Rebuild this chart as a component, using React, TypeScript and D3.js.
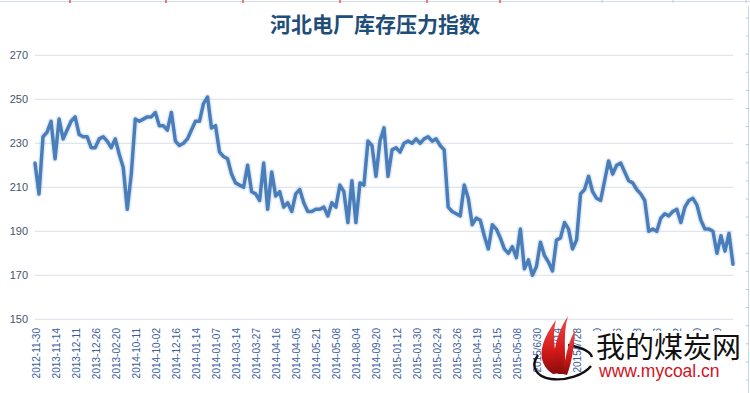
import React from "react";
import * as d3 from "d3";

// 河北电厂库存压力指数
const values: number[] = [
  221, 207, 233, 235, 240, 223, 241, 232, 236, 240,
  242, 234, 233, 233, 228, 228, 232, 233, 231, 228,
  232, 225, 219, 200, 216, 241, 240, 241, 242, 242,
  244, 238, 238, 236, 244, 231, 229, 230, 232, 236,
  240, 240, 248, 251, 237, 238, 226, 224, 223, 216,
  212, 211, 210, 220, 208, 207, 204, 221, 200, 217,
  206, 208, 201, 203, 199, 207, 209, 203, 199, 199,
  200, 200, 201, 197, 203, 201, 211, 208, 194, 213,
  194, 212, 211, 231, 229, 215, 231, 237, 215, 227,
  228, 226, 230, 231, 230, 232, 230, 232, 233, 231,
  232, 229, 227, 201, 199, 198, 197, 211, 205, 193,
  196, 195, 188, 182, 193, 191, 187, 182, 180, 183,
  178, 191, 173, 177, 170, 174, 185, 179, 176, 172,
  186, 187, 194, 191, 182, 186, 207, 209, 215, 208,
  205, 204, 213, 222, 216, 220, 221, 217, 213, 212,
  209, 207, 204, 190, 191, 190, 196, 198, 197, 199,
  200, 194, 201, 204, 205, 202, 195, 191, 191, 190,
  180, 188, 181, 189, 175,
];

// one label every 5 points
const labelEvery = 5;
const tickLabels: string[] = [
  "2012-11-30", "2013-11-14", "2013-12-11", "2013-12-26", "2013-02-20",
  "2014-10-11", "2014-10-02", "2014-12-16", "2014-01-14", "2014-01-07",
  "2014-03-14", "2014-03-27", "2014-04-16", "2014-04-05", "2014-05-21",
  "2014-05-08", "2014-08-04", "2014-09-20", "2015-01-12", "2015-01-30",
  "2015-02-24", "2015-03-26", "2015-04-19", "2015-05-15", "2015-05-08",
  "2015/6/30", "2015/7/14", "2015/7/28", "2015/9/30", "2015/10/16",
  "2015/11/13", "2015/11/26", "2015/12/22", "2016/1/20", "2016/2/10",
];

const yTicks: number[] = [150, 170, 190, 210, 230, 250, 270];

const W = 750;
const H = 393;

export default function App() {
  const x = d3.scaleLinear().domain([0, values.length - 1]).range([35, 733]);
  const y = d3.scaleLinear().domain([150, 270]).range([319.3, 55.3]);

  const line = d3
    .line<number>()
    .x((d, i) => x(i))
    .y((d) => y(d));

  const redMarks = [70, 166, 243, 340, 427, 500];
  const grayMarks = [602, 673, 746];
  const sideTicks = d3.range(18, H, 18.1);

  return (
    <div style={{ position: "absolute", left: 0, top: 0 }}>
      <svg width={W} height={H} style={{ display: "block", background: "#fff" }}>
        <defs>
          <linearGradient id="flame" x1="0" y1="0" x2="0" y2="1">
            <stop offset="0" stopColor="#f04a4a" />
            <stop offset="0.6" stopColor="#d01818" />
            <stop offset="1" stopColor="#8a0c0c" />
          </linearGradient>
        </defs>

        {/* sheet edges */}
        <line x1={0} x2={W} y1={1.5} y2={1.5} stroke="#d3dded" />
        {redMarks.map((m) => (
          <line key={m} x1={m} x2={m} y1={0} y2={3} stroke="#e00000" />
        ))}
        {grayMarks.map((m) => (
          <line key={m} x1={m} x2={m} y1={0} y2={3} stroke="#c0c8d4" />
        ))}
        <line x1={748.5} x2={748.5} y1={6} y2={H} stroke="#c9d7ea" />
        {sideTicks.map((t) => (
          <line key={t} x1={746} x2={748.5} y1={t} y2={t} stroke="#b9c6d8" />
        ))}

        <text
          x={375}
          y={32}
          textAnchor="middle"
          fontFamily="'Noto Sans CJK SC', sans-serif"
          fontWeight="bold"
          fontSize={21}
          fill="#1f4e79"
        >
          河北电厂库存压力指数
        </text>

        {yTicks.map((t) => (
          <g key={t}>
            <line x1={35} x2={733} y1={y(t)} y2={y(t)} stroke="#d9dfea" strokeWidth={1} />
            <text
              x={28}
              y={y(t)}
              textAnchor="end"
              dominantBaseline="central"
              fontFamily="'Liberation Sans', Arial, sans-serif"
              fontSize={11}
              fill="#44546a"
            >
              {t}
            </text>
          </g>
        ))}

        {tickLabels.map((lab, k) => (
          <text
            key={k}
            transform={`translate(${x(k * labelEvery) + 1},328) rotate(-90)`}
            textAnchor="end"
            dominantBaseline="central"
            fontFamily="'Liberation Sans', Arial, sans-serif"
            fontSize={10}
            fill="#3a5da0"
          >
            {lab}
          </text>
        ))}

        {/* soft glow under the series, then the series */}
        <path
          d={line(values) ?? ""}
          fill="none"
          stroke="#4a7ebb"
          strokeOpacity={0.15}
          strokeWidth={6.5}
          strokeLinejoin="round"
        />
        <path
          d={line(values) ?? ""}
          fill="none"
          stroke="#4a7ebb"
          strokeWidth={3.5}
          strokeLinejoin="round"
          strokeLinecap="round"
        />

        {/* watermark logo */}
        <rect x={593} y={331} width={152} height={48} fill="#fff" />
        <path
          d="M568,345 C580,347 590,351 592,357 M591,366 C584,375 566,381 551,379 C536,377 530,366 538,355"
          fill="none"
          stroke="#111"
          strokeWidth={2.4}
        />
        <path
          d="M553,374 C535,362 540,342 556,320 C551,340 556,357 561,373 Z"
          fill="url(#flame)"
        />
        <path
          d="M558,374 C551,357 555,336 568,316 C562,336 567,356 564,374 Z"
          fill="url(#flame)"
        />
        <path
          d="M563,374 C565,360 567,345 575,330 C574,347 572,362 567,375 Z"
          fill="url(#flame)"
        />
        <text
          x={596}
          y={358}
          fontFamily="'Noto Sans CJK SC', sans-serif"
          fontSize={29}
          fill="#111"
        >
          我的煤炭网
        </text>
        <text
          x={599}
          y={377}
          fontFamily="'Liberation Sans', Arial, sans-serif"
          fontSize={17.5}
          fill="#d4121e"
        >
          www.mycoal.cn
        </text>
      </svg>
    </div>
  );
}
